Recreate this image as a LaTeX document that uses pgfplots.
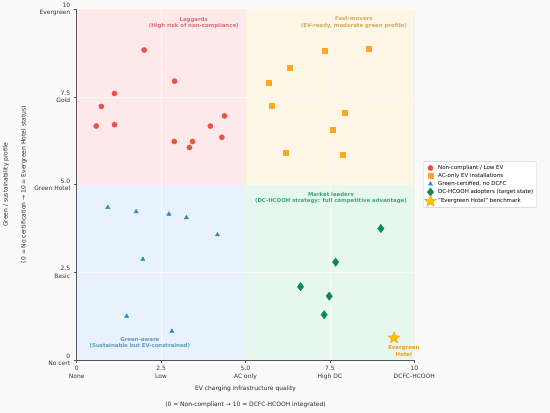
\documentclass[border=0pt]{standalone}
\usepackage{pgfplots}
\pgfplotsset{compat=1.18}
\usepackage{fontspec}
\setmainfont{DejaVu Sans}
\usetikzlibrary{plotmarks}
\pgfdeclareplotmark{fstar}{%
  \pgfpathmoveto{\pgfpointpolar{90}{\pgfplotmarksize}}%
  \pgfpathlineto{\pgfpointpolar{126}{0.42\pgfplotmarksize}}%
  \pgfpathlineto{\pgfpointpolar{162}{\pgfplotmarksize}}%
  \pgfpathlineto{\pgfpointpolar{198}{0.42\pgfplotmarksize}}%
  \pgfpathlineto{\pgfpointpolar{234}{\pgfplotmarksize}}%
  \pgfpathlineto{\pgfpointpolar{270}{0.42\pgfplotmarksize}}%
  \pgfpathlineto{\pgfpointpolar{306}{\pgfplotmarksize}}%
  \pgfpathlineto{\pgfpointpolar{342}{0.42\pgfplotmarksize}}%
  \pgfpathlineto{\pgfpointpolar{18}{\pgfplotmarksize}}%
  \pgfpathlineto{\pgfpointpolar{54}{0.42\pgfplotmarksize}}%
  \pgfpathclose
  \pgfusepathqfillstroke}
\definecolor{bgfig}{HTML}{FAFAFA}
\definecolor{bgLag}{HTML}{FDE9E9}
\definecolor{bgFast}{HTML}{FEF6E4}
\definecolor{bgAware}{HTML}{E8F2FC}
\definecolor{bgLead}{HTML}{E6F8EE}
\definecolor{tLag}{HTML}{D96C73}
\definecolor{tFast}{HTML}{D4AA60}
\definecolor{tLead}{HTML}{3AA37F}
\definecolor{tAware}{HTML}{5A9BBF}
\definecolor{cRed}{HTML}{E5534B}
\definecolor{cOrange}{HTML}{F9A825}
\definecolor{cBlue}{HTML}{2A8AC8}
\definecolor{cGreen}{HTML}{12875B}
\definecolor{cStar}{HTML}{FFC107}
\definecolor{cStarEdge}{HTML}{F39C12}
\definecolor{spine}{HTML}{555555}
\begin{document}
\begin{tikzpicture}
\fill[bgfig] (-76.7bp,-53bp) rectangle (473.3bp,360bp);
\useasboundingbox (-76.7bp,-53bp) rectangle (473.3bp,360bp);
\begin{axis}[
  at={(0,0)}, anchor=south west,
  scale only axis, width=337.6bp, height=350.7bp,
  xmin=0, xmax=10, ymin=0, ymax=10,
  axis x line*=bottom, axis y line*=left,
  axis line style={spine, line width=0.6pt},
  every tick/.style={spine, line width=0.5pt},
  tick align=outside, major tick length=3bp,
  xtick={0,2.5,5,7.5,10},
  ytick={0,2.5,5,7.5,10},
  xticklabels={{0\\None},{2.5\\Low},{5.0\\AC only},{7.5\\High DC},{10\\DCFC-HCOOH}},
  yticklabels={{0\\No cert},{2.5\\Basic},{5.0\\Green Hotel},{7.5\\Gold},{10\\Evergreen}},
  xticklabel style={font=\fontsize{6}{7.2}\selectfont, align=center, text=black!80},
  yticklabel style={font=\fontsize{6}{7.2}\selectfont, align=right, text=black!80},
  grid=major, grid style={black!6, line width=0.4pt},
  xlabel={EV charging infrastructure quality\\[9pt](0 = Non-compliant → 10 = DCFC-HCOOH integrated)},
  xlabel style={font=\fontsize{6}{7.2}\selectfont, align=center, at={(axis description cs:0.5,-0.105)}, anchor=center, text=black!85},
  ylabel={Green / sustainability profile\\[11pt](0 = No certification → 10 = Evergreen Hotel status)},
  ylabel style={font=\fontsize{6}{7.2}\selectfont, align=center, at={(axis description cs:-0.183,0.5)}, anchor=center, rotate=0, text=black!85},
  legend style={at={(1.026,0.5)}, anchor=west, font=\fontsize{5.5}{6.5}\selectfont,
    draw=black!20, fill=white, rounded corners=1.5pt, inner sep=1.5pt,
    row sep=-1.6pt, cells={anchor=west}},
  legend cell align=left,
  clip=false,
]
% quadrant backgrounds
\addplot[fill=bgLag, draw=none, forget plot] coordinates {(0,5)(5,5)(5,10)(0,10)} -- cycle;
\addplot[fill=bgFast, draw=none, forget plot] coordinates {(5,5)(10,5)(10,10)(5,10)} -- cycle;
\addplot[fill=bgAware, draw=none, forget plot] coordinates {(0,0)(5,0)(5,5)(0,5)} -- cycle;
\addplot[fill=bgLead, draw=none, forget plot] coordinates {(5,0)(10,0)(10,5)(5,5)} -- cycle;
% faint grid lines over backgrounds
\addplot[white!70!black!8, line width=0.4pt, forget plot] coordinates {(2.5,0)(2.5,10)};
\addplot[white!70!black!8, line width=0.4pt, forget plot] coordinates {(7.5,0)(7.5,10)};
\addplot[white!70!black!8, line width=0.4pt, forget plot] coordinates {(0,2.5)(10,2.5)};
\addplot[white!70!black!8, line width=0.4pt, forget plot] coordinates {(0,7.5)(10,7.5)};

% Laggards
\addplot[only marks, mark=*, mark size=2.6bp, mark options={fill=cRed, draw=cRed}] coordinates {
(2.00,8.84)(2.90,7.95)(1.12,7.60)(0.73,7.23)(0.58,6.67)(1.12,6.71)
(2.89,6.23)(3.34,6.06)(3.43,6.23)(3.96,6.67)(4.38,6.96)(4.30,6.35)};
\addlegendentry{Non-compliant / Low EV}
% Fast movers
\addplot[only marks, mark=square*, mark size=2.5bp, mark options={fill=cOrange, draw=cOrange}] coordinates {
(7.34,8.83)(8.65,8.89)(6.31,8.33)(5.70,7.91)(5.77,7.24)(7.94,7.05)
(7.57,6.57)(6.19,5.92)(7.88,5.85)};
\addlegendentry{AC-only EV installations}
% Green-aware
\addplot[only marks, mark=triangle*, mark size=2.4bp, mark options={fill=cBlue, draw=cBlue}] coordinates {
(0.92,4.35)(1.76,4.23)(2.73,4.16)(3.25,4.06)(4.17,3.57)(1.96,2.87)(1.48,1.25)(2.82,0.82)};
\addlegendentry{Green-certified, no DCFC}
% Market leaders
\addplot[only marks, mark=diamond*, mark size=4.2bp, mark options={fill=cGreen, draw=cGreen}] coordinates {
(9.01,3.75)(7.67,2.79)(6.63,2.09)(7.48,1.82)(7.33,1.29)};
\addlegendentry{DC-HCOOH adopters (target state)}
% Star
\addplot[only marks, mark=fstar, mark size=6bp, mark options={fill=cStar, draw=cStarEdge, line width=0.5pt}] coordinates {(9.40,0.63)};
\addlegendentry{"Evergreen Hotel" benchmark}

% quadrant labels
\node[anchor=north east, align=center, font=\bfseries\fontsize{5.4}{6.3}\selectfont, text=tLag] at (axis cs:4.9,9.88) {Laggards\\(High risk of non-compliance)};
\node[anchor=north east, align=center, font=\bfseries\fontsize{5.4}{6.3}\selectfont, text=tFast] at (axis cs:9.88,9.88) {Fast-movers\\(EV-ready, moderate green profile)};
\node[anchor=north east, align=center, font=\bfseries\fontsize{5.4}{6.3}\selectfont, text=tLead] at (axis cs:9.88,4.88) {Market leaders\\(DC-HCOOH strategy: full competitive advantage)};
\node[anchor=south west, align=center, font=\bfseries\fontsize{5.4}{6.3}\selectfont, text=tAware] at (axis cs:0.28,0.24) {Green-aware\\(Sustainable but EV-constrained)};
\node[anchor=north, align=center, font=\bfseries\fontsize{5.4}{6.3}\selectfont, text=cStarEdge] at (axis cs:9.69,0.5) {Evergreen\\Hotel};
\end{axis}
\end{tikzpicture}
\end{document}
